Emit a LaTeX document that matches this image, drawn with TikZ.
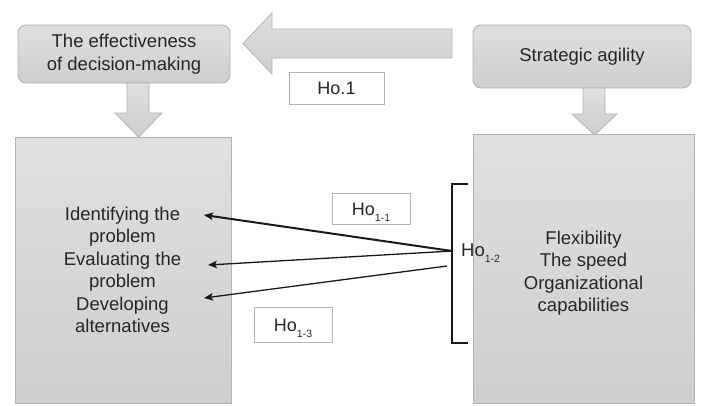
\documentclass[tikz,border=0pt]{standalone}
\usepackage{fontspec}
\setmainfont{Liberation Sans}
\usetikzlibrary{arrows.meta}
\definecolor{boxtop}{HTML}{DFE0E2}
\definecolor{boxbot}{HTML}{CDCED0}
\definecolor{boxline}{HTML}{B2B2B2}
\definecolor{txt}{HTML}{262626}
\newcommand\hosub[1]{\raisebox{-6pt}{\fontsize{10.5}{12}\selectfont #1}}
\begin{document}
\begin{tikzpicture}[x=1pt,y=-1pt,
  graybox/.style={draw=boxline, line width=0.8pt, top color=boxtop, bottom color=boxbot, inner sep=0pt},
  topbox/.style={graybox, rounded corners=8pt, align=center, text=txt,
    font=\fontsize{18.5}{23}\selectfont},
  bodytext/.style={align=center, text=txt, inner sep=0pt, font=\fontsize{18.5}{22.5}\selectfont},
  blockarrow/.style={draw=boxline, line width=0.8pt, top color=boxtop, bottom color=boxbot},
  hobox/.style={draw=boxline, line width=0.8pt, fill=white, text=txt, inner sep=0pt,
    text height=13.3pt, text depth=0pt, font=\fontsize{18}{20}\selectfont},
  conn/.style={draw=black!90, line width=1.3pt, -{Stealth[length=9pt,width=7.5pt,inset=2pt]}}
]
\useasboundingbox (0,0) rectangle (701,405);

% top boxes
\node[topbox, minimum width=212pt, minimum height=58pt] (eff) at (124,54) {The effectiveness\\of decision-making};
\node[topbox, minimum width=218pt, minimum height=63pt] (agil) at (582,56.5) {Strategic agility};

% big block arrow
\path[blockarrow] (452,29) -- (272,29) -- (272,13) -- (243,43.5) -- (272,74) -- (272,58) -- (452,58) -- cycle;

% down arrows
\path[blockarrow] (127,83) -- (149,83) -- (149,113) -- (162,113) -- (138.5,137) -- (115,113) -- (127,113) -- cycle;
\path[blockarrow] (583,88) -- (605,88) -- (605,114) -- (617,114) -- (594.5,135) -- (572,114) -- (583,114) -- cycle;

% big boxes
\node[graybox, minimum width=216pt, minimum height=266pt] (left) at (123,270) {};
\node[graybox, minimum width=221pt, minimum height=269pt] (right) at (583.5,268.5) {};

\node[bodytext] (ltxt) at (122.5,270) {Identifying the\\problem\\Evaluating the\\problem\\Developing\\alternatives};
\node[bodytext] (rtxt) at (583.5,273) {Flexibility\\The speed\\Organizational\\capabilities};

% Ho boxes
\node[hobox, minimum width=95pt, minimum height=32pt] (ho1) at (336.5,88) {Ho.1};
\node[hobox, minimum width=78pt, minimum height=31pt] (ho11) at (371,208.5) {Ho\hosub{1-1}};
\node[hobox, minimum width=78pt, minimum height=35pt] (ho13) at (293,324.5) {Ho\hosub{1-3}};

% bracket
\coordinate (bt) at (468,184);
\coordinate (bb) at (468,343);
\draw[black!90, line width=1.2pt] (bt) -- (452,184) -- (452,343) -- (bb);

% connectors
\coordinate (conv) at (452,251);
\coordinate (c3) at (447,266);
\coordinate (t1) at (204,215);
\coordinate (t2) at (208,265);
\coordinate (t3) at (204,298);
\draw[conn, line width=2pt] (conv) -- (t1);
\draw[conn] (conv) -- (t2);
\draw[conn] (c3) -- (t3);

\node[anchor=base west, inner sep=0pt, text=txt, font=\fontsize{18.5}{22}\selectfont] (ho12) at (461,256) {Ho\hosub{1-2}};
\end{tikzpicture}
\end{document}
